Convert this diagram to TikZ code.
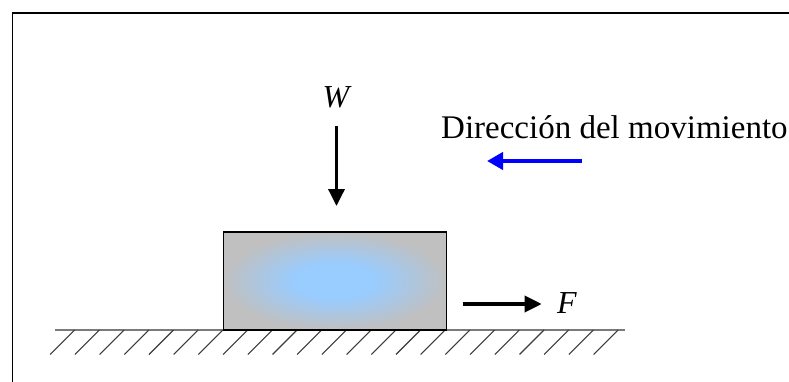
\documentclass[tikz,border=0pt]{standalone}
\usepackage{fontspec}
\setmainfont{Liberation Serif}
\usepackage{xcolor}
\definecolor{BlockGray}{HTML}{C0C0C0}
\definecolor{BlockGlow}{HTML}{99CCFF}
\definecolor{Ground}{HTML}{7A7A7A}
\definecolor{Hatch}{HTML}{3C3C3C}
\definecolor{Motion}{HTML}{0000FF}
\usetikzlibrary{arrows.meta}
\pgfdeclareradialshading{blockglow}{\pgfpoint{0bp}{0bp}}{color(0bp)=(BlockGlow); color(9bp)=(BlockGlow); color(25bp)=(BlockGray); color(50bp)=(BlockGray)}
\tikzset{
  block/.style={draw=black,line width=1.4pt,shade,shading=blockglow,
    minimum width=223pt,minimum height=98pt,inner sep=0pt},
  force/.style={-{Triangle[length=17pt,width=16pt]},line width=3.5pt},
  motion/.style={-{Triangle[length=16pt,width=17pt]},line width=4pt,draw=Motion},
  forcelabel/.style={font=\fontsize{32}{38}\selectfont\itshape,inner sep=0pt},
  caption/.style={font=\fontsize{33}{38}\selectfont,inner sep=0pt}
}
\begin{document}
\begin{tikzpicture}[x=1pt,y=1pt]
  \useasboundingbox (0,0) rectangle (789,381);
  \fill[white] (0,0) rectangle (789,381);
  \draw[line width=1.6pt] (12.5,-20) -- (12.5,368) -- (820,368);
  % ground
  \draw[Ground,line width=1.8pt] (55,51) -- (625,51);
  \foreach \k in {0,...,22}
    \draw[Hatch,line width=1.1pt] (74.7+24.7*\k,51) -- ++(-24.5,-24.5);
  % block
  \node[block] (block) at (334.75,100) {};
  % weight
  \node[forcelabel] (wlabel) at (336,284) {W};
  \coordinate (wtail) at (336.5,255);
  \coordinate (wtip) at (336.5,175);
  \draw[force] (wtail) -- (wtip);
  % pulling force
  \coordinate (ftail) at (462.7,77);
  \coordinate (ftip) at (541.7,77);
  \draw[force] (ftail) -- (ftip);
  \node[forcelabel] (flabel) at (567,78) {F};
  % direction of motion
  \node[caption,anchor=base west] (motiontext) at (441,243) {Dirección del movimiento};
  \coordinate (mtail) at (582,220);
  \coordinate (mtip) at (487,220);
  \draw[motion] (mtail) -- (mtip);
\end{tikzpicture}
\end{document}
